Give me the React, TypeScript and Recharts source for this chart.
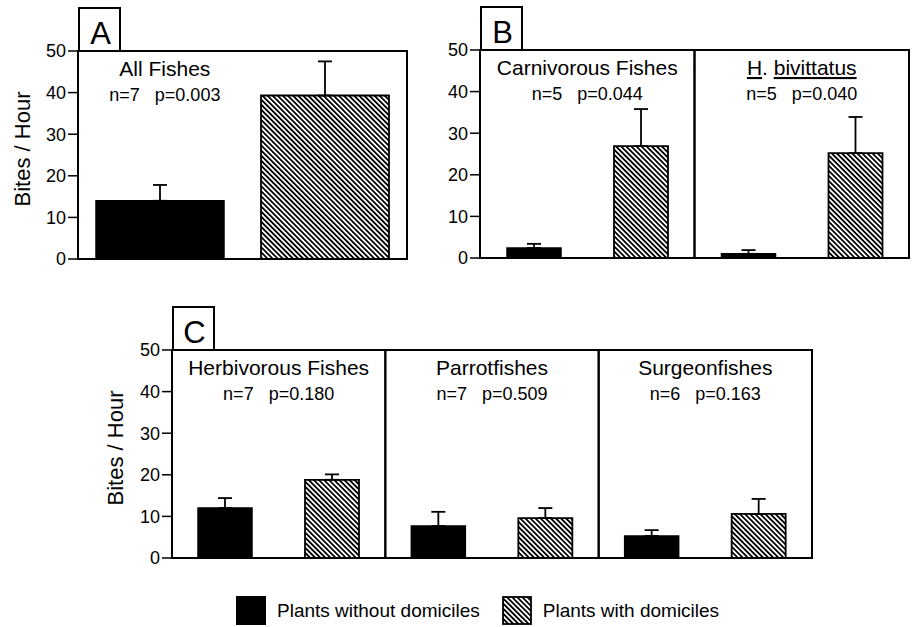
import { BarChart, Bar, XAxis, YAxis, ErrorBar, ReferenceArea } from "recharts";

// panel A
const groupsA = ["All Fishes"];
const statsA = ["n=7   p=0.003"];
const withoutA = [14.0];
const withoutErrA = [3.8];
const withA = [39.3];
const withErrA = [8.2];

// panel B
const groupsB = ["Carnivorous Fishes", "H. bivittatus"];
const statsB = ["n=5   p=0.044", "n=5   p=0.040"];
const withoutB = [2.4, 1.0];
const withoutErrB = [1.0, 0.9];
const withB = [26.9, 25.2];
const withErrB = [8.9, 8.7];

// panel C
const groupsC = ["Herbivorous Fishes", "Parrotfishes", "Surgeonfishes"];
const statsC = ["n=7   p=0.180", "n=7   p=0.509", "n=6   p=0.163"];
const withoutC = [12.0, 7.7, 5.3];
const withoutErrC = [2.4, 3.4, 1.4];
const withC = [18.8, 9.6, 10.6];
const withErrC = [1.3, 2.4, 3.6];

const yTicks = [0, 10, 20, 30, 40, 50];
const underlined = ["H. bivittatus"];
const legendLabels = ["Plants without domiciles", "Plants with domiciles"];

const FONT = "'Liberation Sans', Arial, Helvetica, sans-serif";

const buildRows = (
    groups: string[], stats: string[], without: number[], withoutErr: number[], withVals: number[], withErr: number[]
) =>
    groups.map((g, i) => ({
        group: g,
        stats: stats[i],
        without: without[i],
        withoutErr: [0, withoutErr[i]],
        with: withVals[i],
        withErr: [0, withErr[i]],
    }));

const TitleText = ({ title }: { title: string }) => {
    if (underlined.includes(title)) {
        const [genus, species] = title.split(". ");
        return (
            <>
                <tspan textDecoration="underline" style={{ textDecoration: "underline" }}>{genus}</tspan>
                <tspan>{". "}</tspan>
                <tspan textDecoration="underline" style={{ textDecoration: "underline" }}>{species}</tspan>
            </>
        );
    }
    return <>{title}</>;
};

const makeTitle = (title: string, stats: string, frac: number) => (props: any) => {
    const vb = props.viewBox || {};
    const cx = vb.x + vb.width * frac;
    return (
        <g fontFamily={FONT} fill="#000">
            <text x={cx} y={vb.y + 25} textAnchor="middle" fontSize={21} style={{ whiteSpace: "pre" }}>
                <TitleText title={title} />
            </text>
            <text x={cx} y={vb.y + 50} textAnchor="middle" fontSize={18} style={{ whiteSpace: "pre" }}>
                {stats}
            </text>
        </g>
    );
};

const makeYLabel = (xPos: number) => (props: any) => {
    const vb = props.viewBox || {};
    const cy = vb.y + vb.height / 2 - 6;
    return (
        <text
            x={xPos}
            y={cy}
            transform={`rotate(-90, ${xPos}, ${cy})`}
            textAnchor="middle"
            dominantBaseline="central"
            fontSize={22}
            fontFamily={FONT}
            fill="#000"
        >
            Bites / Hour
        </text>
    );
};

interface PanelProps {
    letter: string;
    rows: any[];
    left: number;
    top: number;
    width: number;
    height: number;
    margin: { top: number; right: number; bottom: number; left: number };
    yAxisWidth: number;
    barSize: number;
    barGap: number;
    titleFrac: number;
    yLabelX?: number;
}

const Panel = ({ letter, rows, left, top, width, height, margin, yAxisWidth, barSize, barGap, titleFrac, yLabelX }: PanelProps) => (
    <div style={{ position: "absolute", left, top, width, height }}>
        <BarChart width={width} height={height} data={rows} margin={margin} barSize={barSize} barGap={barGap}>
            <XAxis dataKey="group" hide />
            <YAxis
                domain={[0, 50]}
                ticks={yTicks}
                width={yAxisWidth}
                tickSize={10}
                tickMargin={2}
                tick={{ fill: "#000", fontSize: 18, fontFamily: FONT }}
                tickLine={{ stroke: "#000", strokeWidth: 1.5 }}
                axisLine={{ stroke: "#000", strokeWidth: 2 }}
                label={yLabelX !== undefined ? makeYLabel(yLabelX) : undefined}
            />
            {rows.map((r) => (
                <ReferenceArea
                    key={r.group}
                    x1={r.group}
                    x2={r.group}
                    y1={0}
                    y2={50}
                    fill="none"
                    fillOpacity={0}
                    stroke="#000"
                    strokeWidth={2}
                    label={makeTitle(r.group, r.stats, titleFrac)}
                />
            ))}
            <Bar dataKey="without" fill="#000" stroke="#000" strokeWidth={1.5} isAnimationActive={false}>
                <ErrorBar dataKey="withoutErr" width={7} stroke="#000" strokeWidth={1.8} />
            </Bar>
            <Bar dataKey="with" fill="url(#hatch)" stroke="#000" strokeWidth={1.8} isAnimationActive={false}>
                <ErrorBar dataKey="withErr" width={7} stroke="#000" strokeWidth={1.8} />
            </Bar>
        </BarChart>
        <div
            style={{
                position: "absolute",
                left: yAxisWidth + margin.left,
                top: margin.top - 44,
                width: 43,
                height: 44,
                boxSizing: "border-box",
                border: "2px solid #000",
                borderBottom: "none",
            }}
        >
            <svg width={41} height={42} style={{ display: "block" }}>
                <text x={20.5} y={35} textAnchor="middle" fontSize={31} fontFamily={FONT} fill="#000">
                    {letter}
                </text>
            </svg>
        </div>
    </div>
);

const Swatch = ({ hatched }: { hatched: boolean }) => (
    <svg width={30} height={29} style={{ display: "block" }}>
        <rect
            x={hatched ? 1 : 0}
            y={hatched ? 1 : 0}
            width={hatched ? 28 : 30}
            height={hatched ? 27 : 29}
            fill={hatched ? "url(#hatch)" : "#000"}
            stroke="#000"
            strokeWidth={hatched ? 1.8 : 0}
        />
    </svg>
);

export default function App() {
    const rowsA = buildRows(groupsA, statsA, withoutA, withoutErrA, withA, withErrA);
    const rowsB = buildRows(groupsB, statsB, withoutB, withoutErrB, withB, withErrB);
    const rowsC = buildRows(groupsC, statsC, withoutC, withoutErrC, withC, withErrC);

    return (
        <div style={{ position: "absolute", left: 0, top: 0, width: 912, height: 627, background: "#fff", fontFamily: FONT }}>
            <svg width={0} height={0} style={{ position: "absolute" }}>
                <defs>
                    <pattern id="hatch" patternUnits="userSpaceOnUse" width={3.6} height={3.6} patternTransform="rotate(45)">
                        <rect x={0} y={0} width={3.6} height={3.6} fill="#fff" />
                        <line x1={0} y1={0.9} x2={3.6} y2={0.9} stroke="#000" strokeWidth={1.8} />
                    </pattern>
                </defs>
            </svg>

            <Panel
                letter="A"
                rows={rowsA}
                left={0}
                top={0}
                width={420}
                height={280}
                margin={{ top: 51, right: 13, bottom: 21, left: 0 }}
                yAxisWidth={78}
                barSize={128}
                barGap={37}
                titleFrac={0.264}
                yLabelX={22}
            />
            <Panel
                letter="B"
                rows={rowsB}
                left={420}
                top={0}
                width={492}
                height={280}
                margin={{ top: 50, right: 3, bottom: 22, left: 0 }}
                yAxisWidth={60}
                barSize={54}
                barGap={53}
                titleFrac={0.5}
            />
            <Panel
                letter="C"
                rows={rowsC}
                left={100}
                top={270}
                width={720}
                height={310}
                margin={{ top: 80, right: 8, bottom: 22, left: 0 }}
                yAxisWidth={72}
                barSize={54}
                barGap={53}
                titleFrac={0.5}
                yLabelX={15}
            />

            <div style={{ position: "absolute", left: 236, top: 596, display: "flex", alignItems: "center", fontSize: 19, color: "#000" }}>
                <Swatch hatched={false} />
                <span style={{ marginLeft: 11, marginRight: 22 }}>{legendLabels[0]}</span>
                <Swatch hatched={true} />
                <span style={{ marginLeft: 11 }}>{legendLabels[1]}</span>
            </div>
        </div>
    );
}
